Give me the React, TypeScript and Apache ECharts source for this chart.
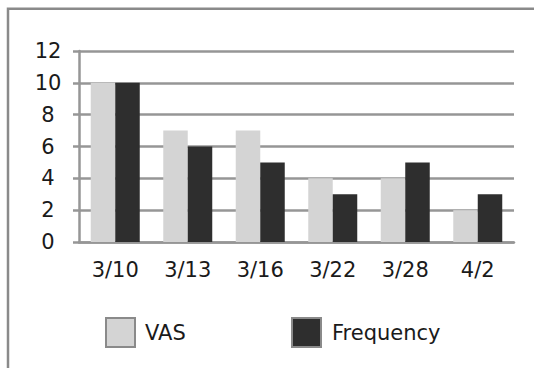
import React, { useEffect, useRef } from "react";
import * as echarts from "echarts";

const categories = ["3/10", "3/13", "3/16", "3/22", "3/28", "4/2"];
const vasValues = [10, 7, 7, 4, 4, 2];
const frequencyValues = [10, 6, 5, 3, 5, 3];
const yMin = 0;
const yMax = 12;
const yInterval = 2;

const FONT = "DejaVu Sans";
const GRID_COLOR = "#969696";
const TEXT_COLOR = "#1a1a1a";

export default function App() {
  const ref = useRef<HTMLDivElement>(null);
  useEffect(() => {
    if (!ref.current) return;
    const chart = echarts.init(ref.current, undefined, { renderer: "svg" });
    chart.setOption({
      animation: false,
      backgroundColor: "#ffffff",
      textStyle: { fontFamily: FONT },
      graphic: [
        {
          type: "rect",
          shape: { x: 8, y: 8.7, width: 700, height: 600 },
          style: { fill: "none", stroke: "#8a8a8a", lineWidth: 2.5 },
          silent: true,
        },
      ],
      grid: { left: 79, right: 20, top: 51, bottom: 126, containLabel: false },
      legend: [
        {
          data: ["VAS"],
          left: 100,
          top: 312,
          itemWidth: 29,
          itemHeight: 29,
          itemGap: 15,
          icon: "rect",
          itemStyle: { borderColor: "#8a8a8a", borderWidth: 2 },
          textStyle: { fontFamily: FONT, fontSize: 21, color: TEXT_COLOR, padding: [0, 0, 0, 5] },
          selectedMode: false,
        },
        {
          data: ["Frequency"],
          left: 286,
          top: 312,
          itemWidth: 29,
          itemHeight: 29,
          itemGap: 15,
          icon: "rect",
          itemStyle: { borderColor: "#8a8a8a", borderWidth: 2 },
          textStyle: { fontFamily: FONT, fontSize: 21, color: TEXT_COLOR, padding: [0, 0, 0, 6] },
          selectedMode: false,
        },
      ],
      xAxis: {
        type: "category",
        data: categories,
        axisLine: { show: true, lineStyle: { color: GRID_COLOR, width: 2.5 } },
        axisTick: { show: false },
        axisLabel: { fontFamily: FONT, fontSize: 21, color: TEXT_COLOR, margin: 17 },
        splitLine: { show: false },
      },
      yAxis: {
        type: "value",
        min: yMin,
        max: yMax,
        interval: yInterval,
        axisLine: { show: true, lineStyle: { color: GRID_COLOR, width: 2.5 } },
        axisTick: { show: true, length: 6, lineStyle: { color: GRID_COLOR, width: 2.5 } },
        axisLabel: { fontFamily: FONT, fontSize: 21, color: TEXT_COLOR, margin: 31, align: "center" },
        splitLine: { show: true, lineStyle: { color: GRID_COLOR, width: 2.5 } },
      },
      series: [
        {
          name: "VAS",
          type: "bar",
          data: vasValues,
          barWidth: 24.5,
          barGap: "0%",
          itemStyle: { color: "#d4d4d4" },
        },
        {
          name: "Frequency",
          type: "bar",
          data: frequencyValues,
          barWidth: 24.5,
          barGap: "0%",
          itemStyle: { color: "#2e2e2e" },
        },
      ],
    });
    return () => chart.dispose();
  }, []);
  return (
    <div
      ref={ref}
      style={{ position: "absolute", left: 0, top: 0, width: 534, height: 368 }}
    />
  );
}
